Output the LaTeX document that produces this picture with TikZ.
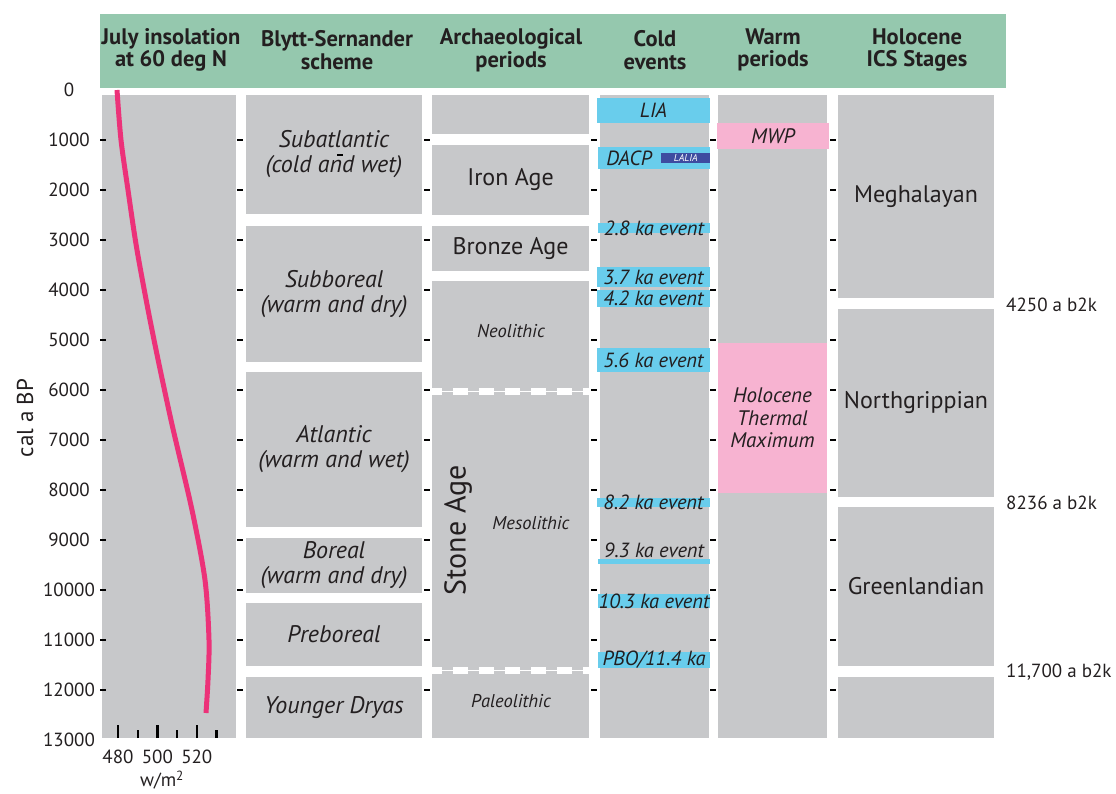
\documentclass[tikz,border=0pt]{standalone}
\usepackage{fontspec}
\setmainfont{PT Sans}
\usetikzlibrary{positioning}
\definecolor{hdrgreen}{HTML}{95C8AE}
\definecolor{boxgray}{HTML}{C7C8CA}
\definecolor{coldblue}{HTML}{69CDEC}
\definecolor{warmpink}{HTML}{F7B3D1}
\definecolor{laliablue}{HTML}{3E4CA0}
\definecolor{curvepink}{HTML}{EC3279}
\definecolor{ink}{HTML}{231F20}
\tikzset{
  gbox/.style  ={fill=boxgray,anchor=north west,inner sep=0pt,outer sep=0pt,align=center,text=ink},
  period/.style={gbox,font=\fontsize{24}{25}\selectfont\itshape},
  stage/.style ={gbox,font=\fontsize{24}{26}\selectfont},
  cold/.style  ={fill=coldblue,anchor=north west,inner sep=0pt,outer sep=0pt},
  warm/.style  ={gbox,fill=warmpink,font=\fontsize{21}{22.5}\selectfont\itshape},
  evt/.style   ={text=ink,inner sep=0pt,font=\fontsize{20.5}{22}\selectfont\itshape},
  sub/.style   ={text=ink,inner sep=0pt,font=\fontsize{18.5}{20}\selectfont\itshape},
  hdr/.style   ={align=center,text=ink,font=\fontsize{22.5}{22.5}\selectfont\bfseries},
  tick/.style  ={line width=2.4pt,draw=black},
  axlbl/.style ={text=ink,inner sep=0pt,font=\fontsize{19}{22}\selectfont},
  sep/.style   ={draw=white,line width=7pt,dash pattern=on 15pt off 11pt,dash phase=5pt},
}

\begin{document}
\begin{tikzpicture}[x=1pt,y=-1pt]
  \useasboundingbox (0,0) rectangle (1116,793);

  % header
  \node[fill=hdrgreen,anchor=north west,inner sep=0pt,minimum width=906pt,minimum height=74pt] (header) at (100,14) {};
  \node[hdr] (hins)  at (171,50) {July insolation\\at 60 deg N};
  \node[hdr] (hbs)   at (337,50) {Blytt-Sernander\\scheme};
  \node[hdr] (harch) at (511,50) {Archaeological\\periods};
  \node[hdr] (hcold) at (655,50) {Cold\\events};
  \node[hdr] (hwarm) at (773,50) {Warm\\periods};
  \node[hdr] (hics)  at (917,50) {Holocene\\ICS Stages};

  % insolation
  \node[gbox,minimum width=134pt,minimum height=643pt] (insol) at (102,95) {};
  \draw[curvepink,line width=5pt] plot[smooth] coordinates {(117,90) (121,140) (128,190) (137,250) (152,330) (171,420) (192,510) (205,580) (209,640) (208,680) (206,713)};

  % Blytt-Sernander
  \node[period,minimum width=176pt,minimum height=119pt] (subatl) at (246,95)  {Subatlantic\\(cold and wet)};
  \node[period,minimum width=176pt,minimum height=136pt] (subbor) at (246,226) {Subboreal\\(warm and dry)};
  \node[period,minimum width=176pt,minimum height=155pt] (atl)    at (246,372) {Atlantic\\(warm and wet)};
  \node[period,minimum width=176pt,minimum height=55pt]  (bor)    at (246,538) {Boreal\\(warm and dry)};
  \node[period,minimum width=176pt,minimum height=63pt]  (prebor) at (246,603) {Preboreal};
  \node[period,minimum width=176pt,minimum height=61pt]  (ydryas) at (246,677) {Younger Dryas};

  % archaeological periods
  \node[gbox,minimum width=157pt,minimum height=39pt]  (arch0)  at (432,95)  {};
  \node[stage,minimum width=157pt,minimum height=70pt] (iron)   at (432,145) {Iron Age};
  \node[stage,minimum width=157pt,minimum height=45pt] (bronze) at (432,226) {Bronze Age};
  \node[gbox,minimum width=157pt,minimum height=457pt] (stone)  at (432,281) {};
  \draw[white,line width=1pt] (stone.west |- 0,391) -- (stone.east |- 0,391);
  \draw[sep] (stone.west |- 0,391) -- (stone.east |- 0,391);
  \draw[white,line width=1pt] (stone.west |- 0,670) -- (stone.east |- 0,670);
  \draw[sep] (stone.west |- 0,670) -- (stone.east |- 0,670);
  \node[sub] (neo)   at (511,331) {Neolithic};
  \node[sub] (meso)  at (531,523) {Mesolithic};
  \node[sub] (paleo) at (511,701) {Paleolithic};
  \node[text=ink,rotate=90,font=\fontsize{30}{32}\selectfont] (stonelbl) at (458,530) {Stone Age};

  % cold events
  \node[gbox,minimum width=109pt,minimum height=643pt] (coldcol) at (600,95) {};
  \node[cold,minimum width=113pt,minimum height=25pt,label={[evt]center:LIA}]          (lia)  at (597,98)  {};
  \node[cold,minimum width=112pt,minimum height=22pt,label={[evt,xshift=-25pt]center:DACP}] (dacp) at (598,147) {};
  \node[fill=laliablue,anchor=north west,inner sep=0pt,minimum width=49pt,minimum height=10pt,text=white,font=\fontsize{10}{10}\selectfont\itshape] (lalia) at (661,153) {LALIA};
  \node[cold,minimum width=112pt,minimum height=10pt,label={[evt]center:2.8 ka event}]  (e28)  at (598,223) {};
  \node[cold,minimum width=113pt,minimum height=20pt,label={[evt]center:3.7 ka event}]  (e37)  at (597,267) {};
  \node[cold,minimum width=113pt,minimum height=17pt,label={[evt]center:4.2 ka event}]  (e42)  at (597,290) {};
  \node[cold,minimum width=113pt,minimum height=24pt,label={[evt]center:5.6 ka event}]  (e56)  at (597,348) {};
  \node[cold,minimum width=113pt,minimum height=9pt,label={[evt]center:8.2 ka event}]   (e82)  at (597,498) {};
  \node[cold,minimum width=112pt,minimum height=5pt,label={[evt,yshift=11pt]center:9.3 ka event}] (e93) at (598,559) {};
  \node[cold,minimum width=112pt,minimum height=14pt,label={[evt]center:10.3 ka event}] (e103) at (598,594) {};
  \node[cold,minimum width=112pt,minimum height=16pt,label={[evt]center:PBO/11.4 ka}]   (pbo)  at (598,652) {};

  % warm periods
  \node[gbox,minimum width=109pt,minimum height=643pt] (warmcol) at (718,95) {};
  \node[warm,minimum width=112pt,minimum height=26pt]  (mwp) at (717,123) {MWP};
  \node[warm,minimum width=109pt,minimum height=150pt] (htm) at (718,343) {Holocene\\Thermal\\Maximum};

  % ICS stages
  \node[stage,minimum width=156pt,minimum height=203pt] (megh)  at (838,95)  {Meghalayan};
  \node[stage,minimum width=156pt,minimum height=188pt] (north) at (838,309) {Northgrippian};
  \node[stage,minimum width=156pt,minimum height=159pt] (green) at (838,507) {Greenlandian};
  \node[gbox,minimum width=156pt,minimum height=61pt]   (ics0)  at (838,677) {};
  \node[axlbl,anchor=west] (b4250)  at (1006,305) {4250 a b2k};
  \node[axlbl,anchor=west] (b8236)  at (1006,503) {8236 a b2k};
  \node[axlbl,anchor=west] (b11700) at (1006,672) {11,700 a b2k};

  % time ticks
  \foreach \cx in {100,237,424,591,710,830}
    \foreach \t in {1,...,12}
      \draw[tick] (\cx,90+50*\t) -- ++(6,0);
  \draw[tick] (337,155) -- ++(6,0);

  % time axis
  \foreach \t in {0,...,13}{
    \pgfmathtruncatemacro\yr{\t*1000}
    \node[axlbl] (yl\t) at (69,90+50*\t) {\yr};
  }
  \node[axlbl,rotate=90,font=\fontsize{23}{24}\selectfont] (ylab) at (25,418) {cal a BP};

  % insolation scale
  \foreach \w/\len in {480/13,490/8,500/13,510/8,520/13,530/8}
    \draw[tick] ({118+(\w-480)*1.97},738) -- ++(0,-\len);
  \foreach \w in {480,500,520}
    \node[axlbl] (w\w) at ({118+(\w-480)*1.97},757) {\w};
  \node[axlbl] (wunit) at (162,780) {w/m\textsuperscript{2}};
\end{tikzpicture}
\end{document}
